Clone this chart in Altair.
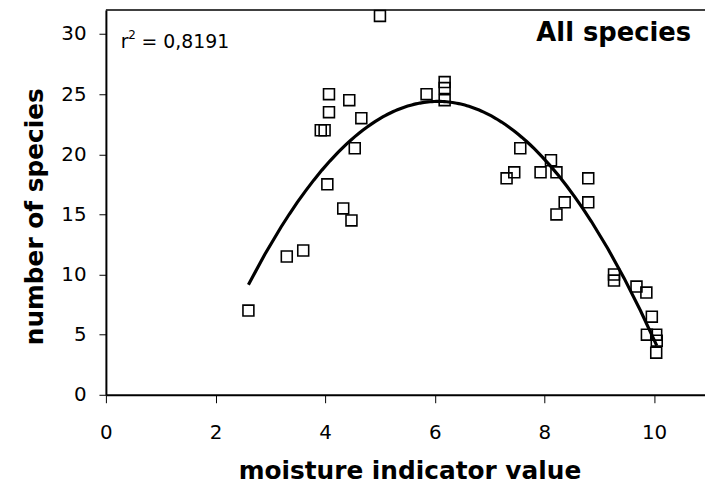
import altair as alt
import pandas as pd

# Data
moisture = [2.6, 3.3, 3.6, 3.92, 3.99, 4.07, 4.07, 4.04, 4.33, 4.44, 4.48, 4.54, 4.66,
            5.0, 5.85, 6.18, 6.18, 6.18,
            7.56, 8.12, 7.45, 7.31, 7.93, 8.22, 8.80, 8.37, 8.80, 8.22,
            9.27, 9.27, 9.68, 9.86, 9.96, 9.87, 10.04, 10.05, 10.04]
species = [7.0, 11.5, 12.0, 22.0, 22.0, 25.0, 23.5, 17.5, 15.5, 24.5, 14.5, 20.5, 23.0,
           31.5, 25.0, 26.0, 25.5, 24.5,
           20.5, 19.5, 18.5, 18.0, 18.5, 18.5, 18.0, 16.0, 16.0, 15.0,
           10.0, 9.5, 9.0, 8.5, 6.5, 5.0, 5.0, 4.5, 3.5]

x_ticks = [0, 2, 4, 6, 8, 10]
y_ticks = [0, 5, 10, 15, 20, 25, 30]
x_title = "moisture indicator value"
y_title = "number of species"
r2_base = ["r"]
r2_sup = ["2"]
r2_value = ["= 0,8191"]
panel_text = ["All species"]

df = pd.DataFrame({"moisture": moisture, "species": species})

W, H = 604, 388
FONT = "DejaVu Sans"

xscale = alt.Scale(domain=[0, 10.93], nice=False, zero=False)
yscale = alt.Scale(domain=[0, 32], nice=False, zero=False)

xaxis = alt.Axis(values=x_ticks, title=x_title, grid=False, labelFlush=False, format="d",
                 labelFont=FONT, labelFontSize=20, labelColor="black", labelPadding=20,
                 tickSize=8, tickColor="black", tickWidth=1,
                 domainColor="black", domainWidth=2,
                 titleFont=FONT, titleFontSize=25, titleFontWeight="bold", titleColor="black",
                 titleBaseline="alphabetic", titleX=306, titleY=84, titleAlign="center")
yaxis = alt.Axis(values=y_ticks, title=y_title, grid=False, format="d",
                 labelFont=FONT, labelFontSize=20, labelColor="black", labelPadding=13,
                 tickSize=7, tickColor="black", tickWidth=1,
                 domainColor="black", domainWidth=2,
                 titleFont=FONT, titleFontSize=25, titleFontWeight="bold", titleColor="black",
                 titleAngle=270, titleBaseline="alphabetic", titleX=-64, titleY=208,
                 titleAlign="center")

base = alt.Chart(df)

points = base.mark_point(shape="square", size=121, filled=False, color="black",
                         strokeWidth=1.6, opacity=1).encode(
    x=alt.X("moisture:Q", scale=xscale, axis=xaxis),
    y=alt.Y("species:Q", scale=yscale, axis=yaxis),
)

fit = base.transform_regression("moisture", "species", method="poly", order=2).mark_line(
    color="black", strokeWidth=3.2).encode(
    x=alt.X("moisture:Q", scale=xscale),
    y=alt.Y("species:Q", scale=yscale),
)

top_border = alt.Chart(pd.DataFrame({"a": [0]})).mark_rule(color="black", strokeWidth=1.6).encode(
    x=alt.value(0), x2=alt.value(W), y=alt.value(0))


def label(texts, size, px, py, weight="normal", align="left"):
    return alt.Chart(pd.DataFrame({"t": texts})).mark_text(
        font=FONT, fontSize=size, fontWeight=weight, align=align, baseline="alphabetic",
        color="black").encode(text="t:N", x=alt.value(px), y=alt.value(py))


r2a = label(r2_base, 19, 15, 38)
r2b = label(r2_sup, 12, 22.5, 29)
r2c = label(r2_value, 19, 36, 38)
panel = label(panel_text, 26, 590, 31, weight="bold", align="right")

chart = alt.layer(points, fit, top_border, r2a, r2b, r2c, panel).properties(
    width=W, height=H,
    autosize=alt.AutoSizeParams(type="none"),
    padding={"left": 98.7, "top": 0, "right": 0, "bottom": 92},
    background="white",
).configure_view(stroke=None)

chart.save("out.html", embed_options={"renderer": "svg", "actions": False})
